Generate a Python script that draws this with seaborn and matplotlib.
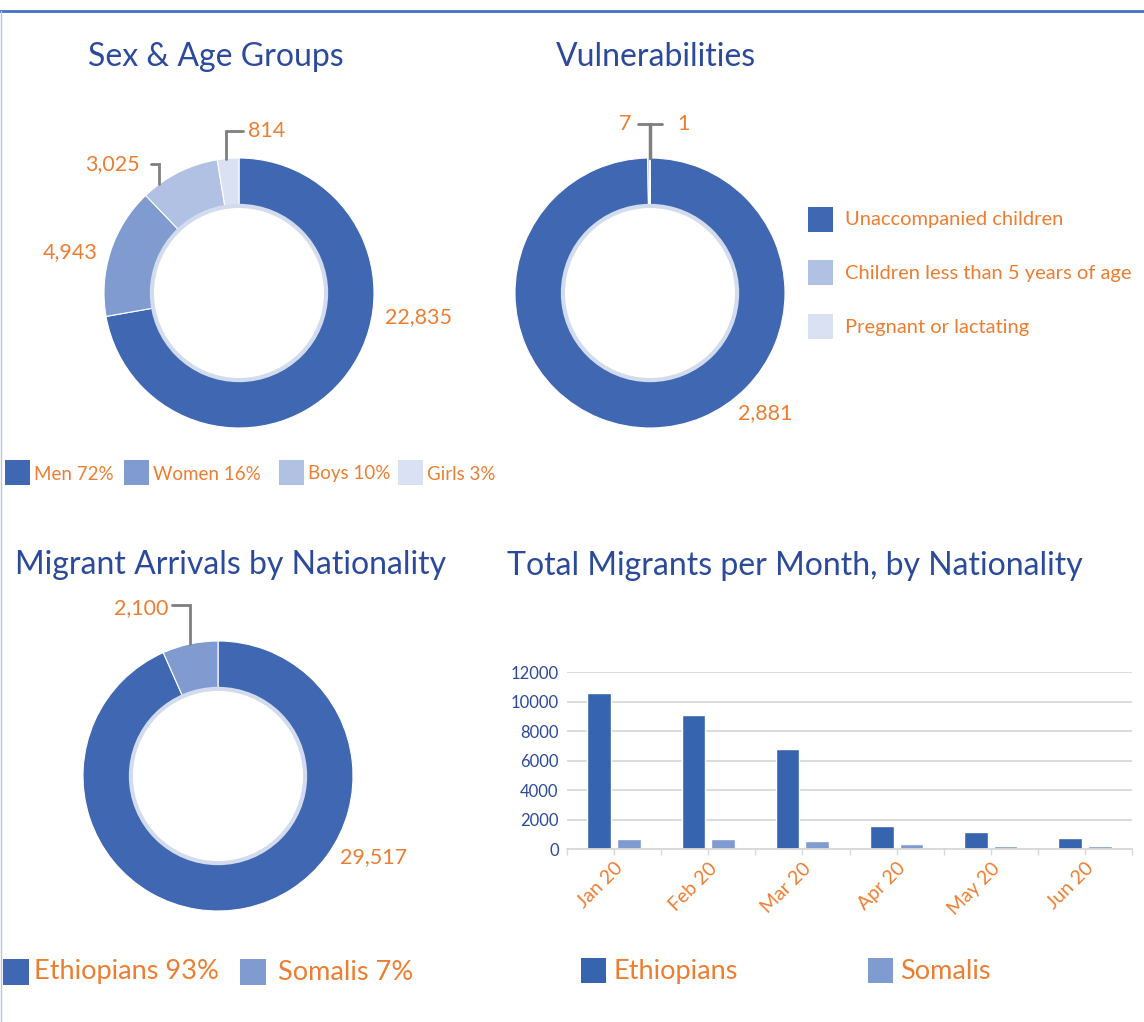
import numpy as np
import pandas as pd
import seaborn as sns
import matplotlib
matplotlib.use("Agg")
import matplotlib.pyplot as plt
from matplotlib.lines import Line2D
from matplotlib.patches import Circle, Rectangle

sns.set_theme(style="white")
plt.rcParams['font.family'] = ['Lato', 'DejaVu Sans']

# ---- data ----
sex_age_groups = ["Men", "Women", "Boys", "Girls"]
sex_age_values = [22835, 4943, 3025, 814]
sex_age_pct = [72, 16, 10, 3]

vuln_groups = ["Unaccompanied children", "Children less than 5 years of age",
               "Pregnant or lactating"]
vuln_values = [2881, 7, 1]

nat_groups = ["Ethiopians", "Somalis"]
nat_values = [29517, 2100]
nat_pct = [93, 7]

months = ["Jan 20", "Feb 20", "Mar 20", "Apr 20", "May 20", "Jun 20"]
eth_month = [10550, 9100, 6800, 1580, 1170, 760]
som_month = [680, 680, 540, 330, 200, 190]

# ---- styling ----
W, H = 1144, 1022
BLUE1, BLUE2, BLUE3, BLUE4 = "#4068B2", "#7F9BD0", "#B1C1E3", "#D9E1F2"
BAR_ETH, BAR_SOM = "#3764AF", "#7F9BD0"
TITLE_C = "#2C4A9B"
ORANGE = "#ED7D31"
LEAD = "#7F7F7F"

fig = plt.figure(figsize=(W / 100, H / 100), dpi=100)


def fx(x):
    return x / W


def fy(y):
    return 1 - y / H


def ftext(x, y, s, **kw):
    kw.setdefault("va", "center")
    fig.text(fx(x), fy(y), s, **kw)


def fbox(x, y, size, color):
    fig.add_artist(Rectangle((fx(x), fy(y + size)), size / W, size / H,
                             transform=fig.transFigure, color=color, lw=0))


def donut_axes(cx, cy, r, pad=1.4):
    half = r * pad
    ax = fig.add_axes([fx(cx - half), fy(cy + half), 2 * half / W, 2 * half / H])
    return ax


def donut(ax, values, colors, pad=1.4):
    wedges, _ = ax.pie(values, colors=colors, startangle=90, counterclock=False,
                       radius=1, wedgeprops=dict(width=0.36, edgecolor="white",
                                                 linewidth=0.8))
    ax.add_patch(Circle((0, 0), 0.645, facecolor="none", edgecolor="#D3DCEE",
                        linewidth=3))
    ax.set_xlim(-pad, pad)
    ax.set_ylim(-pad, pad)
    ax.axis("off")
    return wedges


def leader(ax, wedge, frac, y_end, x_end):
    th = np.deg2rad(wedge.theta1 + frac * (wedge.theta2 - wedge.theta1))
    x0, y0 = np.cos(th), np.sin(th)
    ax.plot([x0, x0, x_end], [y0, y_end, y_end], color=LEAD, lw=2,
            clip_on=False, solid_joinstyle="miter")


R = 135
TFS = 23
LFS = 15.5

# ---- Sex & Age Groups ----
ftext(88, 57, "Sex & Age Groups", color=TITLE_C, fontsize=TFS)
ax1 = donut_axes(239, 293, R)
w1 = donut(ax1, sex_age_values, [BLUE1, BLUE2, BLUE3, BLUE4])
leader(ax1, w1[3], 0.6, (293 - 131) / R, (243 - 239) / R)
ax1.text((248 - 239) / R, (293 - 131) / R, f"{sex_age_values[3]:,}",
         color=ORANGE, fontsize=LFS, va="center", ha="left")
leader(ax1, w1[2], 0.78, (293 - 164) / R, (151 - 239) / R)
ax1.text((140 - 239) / R, (293 - 164) / R, f"{sex_age_values[2]:,}",
         color=ORANGE, fontsize=LFS, va="center", ha="right")
ax1.text((98 - 239) / R, (293 - 252) / R, f"{sex_age_values[1]:,}",
         color=ORANGE, fontsize=LFS, va="center", ha="right")
ax1.text((385 - 239) / R, (293 - 317) / R, f"{sex_age_values[0]:,}",
         color=ORANGE, fontsize=LFS, va="center", ha="left")

leg_x = [5, 124, 279, 398]
for x, g, p, c in zip(leg_x, sex_age_groups, sex_age_pct,
                      [BLUE1, BLUE2, BLUE3, BLUE4]):
    fbox(x, 460, 25, c)
    ftext(x + 29, 474, f"{g} {p}%", color=ORANGE, fontsize=13.5)

# ---- Vulnerabilities ----
ftext(556, 57, "Vulnerabilities", color=TITLE_C, fontsize=TFS)
ax2 = donut_axes(650, 293, R)
w2 = donut(ax2, vuln_values, [BLUE1, BLUE3, BLUE4])
ax2.plot([0, 0], [1, (293 - 124) / R], color=LEAD, lw=2.5, clip_on=False)
ax2.plot([-12 / R, 12 / R], [(293 - 124) / R] * 2, color=LEAD, lw=2,
         clip_on=False)
ax2.text(-19 / R, (293 - 124) / R, f"{vuln_values[1]:,}", color=ORANGE,
         fontsize=LFS, va="center", ha="right")
ax2.text(27 / R, (293 - 124) / R, f"{vuln_values[2]:,}", color=ORANGE,
         fontsize=LFS, va="center", ha="left")
ax2.text((738 - 650) / R, (293 - 413) / R, f"{vuln_values[0]:,}",
         color=ORANGE, fontsize=LFS, va="center", ha="left")

for y, g, c in zip([207, 260, 314], vuln_groups, [BLUE1, BLUE3, BLUE4]):
    fbox(808, y, 25, c)
    ftext(845, y + 13, g, color=ORANGE, fontsize=14.5)

# ---- Migrant Arrivals by Nationality ----
ftext(15, 565, "Migrant Arrivals by Nationality", color=TITLE_C, fontsize=TFS)
ax3 = donut_axes(218, 776, R)
w3 = donut(ax3, nat_values, [BLUE1, BLUE2])
leader(ax3, w3[1], 0.5, (776 - 605) / R, (172 - 218) / R)
ax3.text((168 - 218) / R, (776 - 608) / R, f"{nat_values[1]:,}",
         color=ORANGE, fontsize=LFS, va="center", ha="right")
ax3.text((340 - 218) / R, (776 - 857) / R, f"{nat_values[0]:,}",
         color=ORANGE, fontsize=LFS, va="center", ha="left")

for x, tx, g, p, c in zip([3, 240], [34, 278], nat_groups, nat_pct,
                          [BLUE1, BLUE2]):
    fbox(x, 959, 26, c)
    ftext(tx, 972, f"{g} {p}%", color=ORANGE, fontsize=19.5)

# ---- Total Migrants per Month ----
ftext(507, 566, "Total Migrants per Month, by Nationality", color=TITLE_C,
      fontsize=TFS)
df = pd.DataFrame({
    "month": months * 2,
    "migrants": eth_month + som_month,
    "nationality": ["Ethiopians"] * len(months) + ["Somalis"] * len(months),
})
ax4 = fig.add_axes([fx(567), fy(849), 565 / W, 177 / H])
sns.barplot(data=df, x="month", y="migrants", hue="nationality",
            palette=[BAR_ETH, BAR_SOM], width=0.63, gap=0.2, legend=False,
            saturation=1, ax=ax4)
ax4.set_ylim(0, 12000)
ax4.set_yticks(range(0, 12001, 2000))
ax4.set_xlim(-0.5, len(months) - 0.5)
ax4.set_xlabel("")
ax4.set_ylabel("")
ax4.grid(axis="y", color="#D9D9D9", lw=1.3)
ax4.set_axisbelow(True)
for s in ["top", "left", "right"]:
    ax4.spines[s].set_visible(False)
ax4.spines["bottom"].set_color("#D9D9D9")
ax4.spines["bottom"].set_linewidth(1.3)
ax4.set_xticks(np.arange(-0.5, len(months)), minor=True)
ax4.tick_params(axis="x", which="both", bottom=True, length=4, width=1,
                color="#D9D9D9", direction="out")
ax4.tick_params(axis="y", length=0, labelsize=12, labelcolor=TITLE_C, pad=6)
ax4.set_xticks(range(len(months)))
ax4.set_xticklabels(months, rotation=45, ha="right", rotation_mode="anchor",
                    color=ORANGE, fontsize=14)

for x, tx, g, c in zip([581, 868], [613, 900], nat_groups, [BAR_ETH, BAR_SOM]):
    fbox(x, 958, 25, c)
    ftext(tx, 971, g, color=ORANGE, fontsize=19.5)

# ---- page borders ----
fig.add_artist(Line2D([0, 1], [fy(11), fy(11)], transform=fig.transFigure,
                      color="#4472C4", lw=2))
fig.add_artist(Line2D([fx(1), fx(1)], [fy(11), 0], transform=fig.transFigure,
                      color="#B4C6E7", lw=1))

fig.savefig("out.png", dpi=100)
